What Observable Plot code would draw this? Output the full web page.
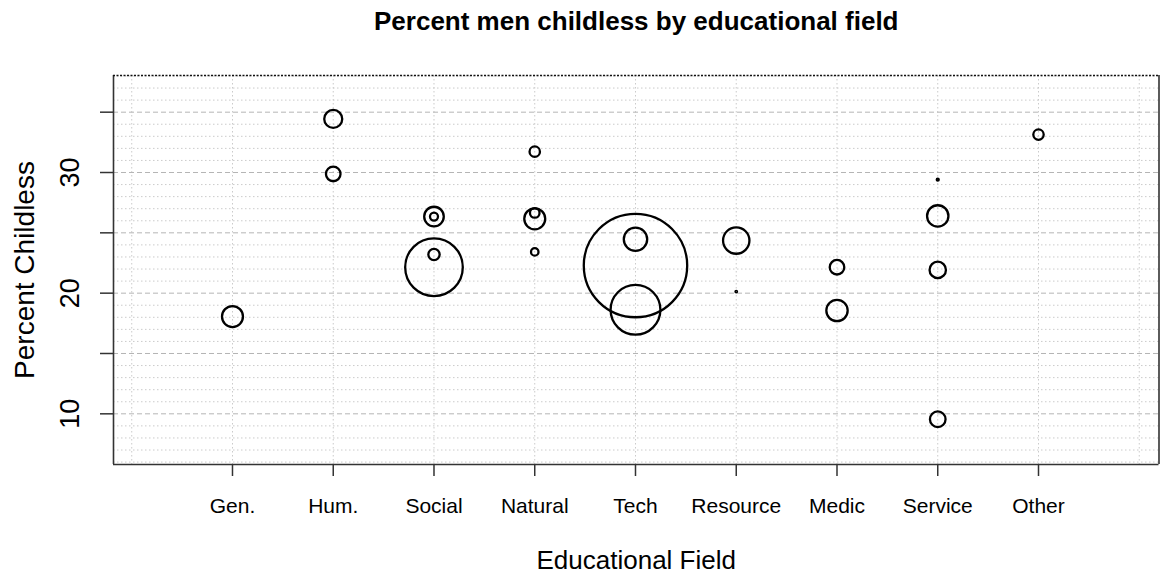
<!DOCTYPE html>
<html>
<head>
<meta charset="utf-8">
<script src="https://cdn.jsdelivr.net/npm/d3@7"></script>
<script src="https://cdn.jsdelivr.net/npm/@observablehq/plot@0.6"></script>
<style>
  html, body { margin: 0; padding: 0; background: #fff; }
  #chart svg { display: block; }
</style>
</head>
<body>
<div id="chart"></div>
<script>
// Educational fields along the x axis
const fieldNames = ["Gen.", "Hum.", "Social", "Natural", "Tech", "Resource", "Medic", "Service", "Other"];

// One bubble per subgroup: its field, percent childless, and group size
const pointField = ["Gen.", "Hum.", "Hum.", "Social", "Social", "Social", "Social",
  "Natural", "Natural", "Natural", "Natural", "Tech", "Tech", "Tech",
  "Resource", "Resource", "Medic", "Medic", "Service", "Service", "Service", "Service", "Other"];
const pctChildless = [18.06, 34.44, 29.88, 26.35, 26.35, 23.20, 22.15,
  31.73, 26.16, 26.65, 23.42, 22.29, 24.47, 18.62,
  24.36, 20.13, 22.15, 18.56, 29.41, 26.40, 21.93, 9.55, 33.14];
const groupSize = [110, 81, 53, 96, 16, 32, 830,
  27, 110, 23, 14, 2673, 137, 620,
  174, 0.6, 53, 114, 1, 114, 67, 61, 27];

// Axis ticks and grid
const yTicks = [10, 15, 20, 25, 30, 35];
const yTickLabels = [10, 20, 30];
const yMinorGrid = d3.range(6, 39);
const xGrid = d3.range(0, 11);

const xDomain = [-0.181, 10.196];
const yDomain = [5.80, 38.04];

const points = pointField.map((f, i) => ({
  field: f,
  pos: fieldNames.indexOf(f) + 1,
  pct: pctChildless[i],
  size: groupSize[i]
}));

const font = "'Liberation Sans', Arial, sans-serif";

const chart = Plot.plot({
  width: 1160,
  height: 574,
  marginLeft: 113,
  marginRight: 1.5,
  marginTop: 75,
  marginBottom: 110,
  style: { fontFamily: font, background: "#fff", color: "#000" },
  x: { domain: xDomain },
  y: { domain: yDomain },
  r: { type: "sqrt", domain: [0, 2500], range: [0, 50] },
  marks: [
    // grid
    Plot.ruleX(xGrid, { stroke: "#cbcbcb", strokeDasharray: "1.5,2.5" }),
    Plot.ruleY(yMinorGrid.filter(v => v % 5 !== 0), { stroke: "#cbcbcb", strokeDasharray: "1.5,2.5" }),
    Plot.ruleY(yTicks, { stroke: "#b5b5b5", strokeDasharray: "5,3" }),

    // plot box
    Plot.ruleX([xDomain[0]], { stroke: "#333", strokeWidth: 1.6 }),
    Plot.ruleX([xDomain[1]], { stroke: "#333", strokeWidth: 1.6 }),
    Plot.ruleY([yDomain[0]], { stroke: "#333", strokeWidth: 1.6 }),
    Plot.ruleY([yDomain[1]], { stroke: "#111", strokeWidth: 1.5, strokeDasharray: "2,1.5" }),

    // axes
    Plot.axisX({
      ticks: d3.range(1, 10),
      tickSize: 12,
      tickPadding: 22,
      tickFormat: i => fieldNames[i - 1],
      fontSize: 21,
      strokeWidth: 1.5,
      stroke: "#333",
      label: null
    }),
    Plot.axisY({
      ticks: yTicks,
      tickSize: 13,
      tickFormat: () => "",
      strokeWidth: 1.5,
      stroke: "#333",
      label: null
    }),
    Plot.text(yTickLabels, {
      y: d => d,
      text: d => String(d),
      frameAnchor: "left",
      dx: -35,
      rotate: -90,
      textAnchor: "middle",
      lineAnchor: "bottom",
      fontSize: 27,
      fill: "#000"
    }),

    // bubbles
    Plot.dot(points, {
      x: "pos",
      y: "pct",
      r: "size",
      stroke: "#000",
      strokeWidth: 2.3,
      fill: "none"
    }),

    // titles
    Plot.text(["Percent men childless by educational field"], {
      frameAnchor: "top",
      dy: -45.5,
      lineAnchor: "bottom",
      fontSize: 26,
      fontWeight: "bold",
      fill: "#000"
    }),
    Plot.text(["Educational Field"], {
      frameAnchor: "bottom",
      dy: 104,
      lineAnchor: "bottom",
      fontSize: 26,
      fill: "#000"
    }),
    Plot.text(["Percent Childless"], {
      frameAnchor: "left",
      dx: -80,
      rotate: -90,
      textAnchor: "middle",
      lineAnchor: "bottom",
      fontSize: 28,
      fill: "#000"
    })
  ]
});

document.getElementById("chart").appendChild(chart);
</script>
</body>
</html>
